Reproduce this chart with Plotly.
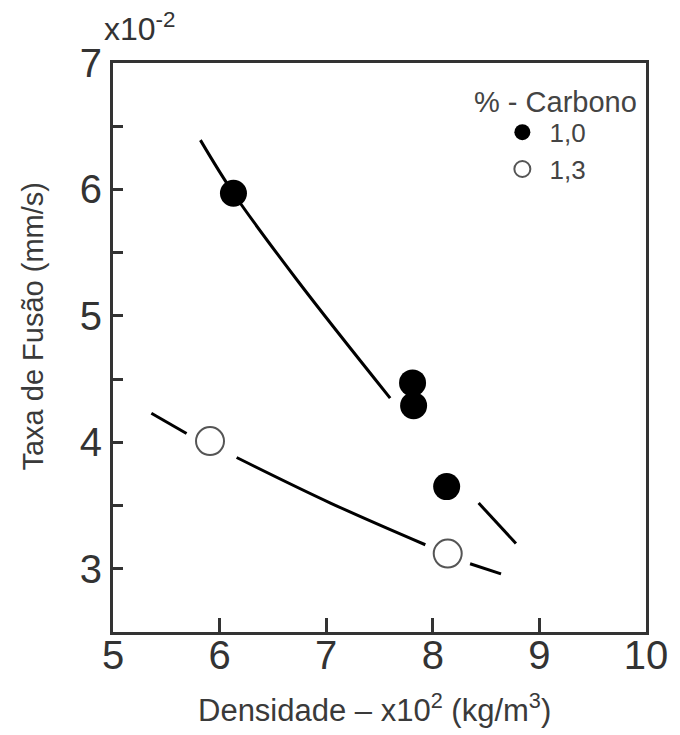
import plotly.graph_objects as go

# Measured points
dens_c10 = [6.13, 7.81, 7.82, 8.13]
taxa_c10 = [5.97, 4.47, 4.29, 3.65]
dens_c13 = [5.91, 8.14]
taxa_c13 = [4.01, 3.12]

# Fitted curves (gaps around the markers)
fit_c10_x = [5.82, 6.13, 6.73, 7.60, None, 8.43, 8.78]
fit_c10_y = [6.39, 5.97, 5.28, 4.35, None, 3.52, 3.20]
fit_c13_x = [5.36, 5.69, None, 6.16, 7.04, 7.93, None, 8.35, 8.64]
fit_c13_y = [4.23, 4.07, None, 3.88, 3.52, 3.19, None, 3.04, 2.96]

x_tickvals = [5, 6, 7, 8, 9, 10]
x_ticktext = ["5", "6", "7", "8", "9", "10"]
y_tickvals = [3, 3.5, 4, 4.5, 5, 5.5, 6, 6.5, 7]
y_ticktext = ["3", "", "4", "", "5", "", "6", "", "7"]

TITLEFONT = "Liberation Sans, Arial, sans-serif"
TICKFONT = dict(family=TITLEFONT, size=40, color="#333333")

fig = go.Figure()

fig.add_trace(go.Scatter(x=fit_c10_x, y=fit_c10_y, mode="lines", line=dict(color="black", width=3, shape="spline"),
                         showlegend=False, hoverinfo="skip", connectgaps=False))
fig.add_trace(go.Scatter(x=fit_c13_x, y=fit_c13_y, mode="lines", line=dict(color="black", width=3, shape="spline"),
                         showlegend=False, hoverinfo="skip", connectgaps=False))

fig.add_trace(go.Scatter(x=dens_c10, y=taxa_c10, mode="markers", name="\u00a01,0",
                         marker=dict(symbol="circle", size=27, color="black", line=dict(width=0))))
fig.add_trace(go.Scatter(x=dens_c13, y=taxa_c13, mode="markers", name="\u00a01,3",
                         marker=dict(symbol="circle", size=28, color="white", line=dict(width=2, color="#555555"))))

fig.update_layout(
    width=680, height=735,
    margin=dict(l=113, r=18, t=63, b=103),
    paper_bgcolor="white", plot_bgcolor="white",
    font=dict(family=TITLEFONT, color="#3a3a3a"),
    legend=dict(
        x=0.7305, y=0.9195, xanchor="left", yanchor="top",
        bgcolor="rgba(0,0,0,0)",
        font=dict(size=26, family=TITLEFONT, color="#444444"),
        itemsizing="trace", tracegroupgap=0,
    ),
    xaxis=dict(
        range=[5, 10], tickvals=x_tickvals, ticktext=x_ticktext,
        ticks="inside", ticklen=14, tickwidth=3, tickcolor="#333333",
        showline=True, linewidth=3, linecolor="#333333", mirror=True,
        showgrid=False, zeroline=False, tickfont=TICKFONT,
        ticklabeloverflow="allow", ticklabelstandoff=-14,
    ),
    yaxis=dict(
        range=[2.5, 7], tickvals=y_tickvals, ticktext=y_ticktext,
        ticks="inside", ticklen=10, tickwidth=3, tickcolor="#333333",
        showline=True, linewidth=3, linecolor="#333333", mirror=True,
        showgrid=False, zeroline=False, tickfont=TICKFONT,
        ticklabeloverflow="allow",
    ),
    annotations=[
        dict(text="x10<sup>-2</sup>", xref="paper", yref="paper", x=-0.02, y=1.0, xanchor="left", yanchor="bottom",
             yshift=14, showarrow=False, font=dict(size=32, family=TITLEFONT, color="#333333")),
        dict(text="% - Carbono", xref="paper", yref="paper", x=0.831, y=0.931, xanchor="center", yanchor="middle",
             showarrow=False, font=dict(size=29, family=TITLEFONT, color="#444444")),
        dict(text="Taxa de Fusão (mm/s)", xref="paper", yref="paper", x=-0.151, y=0.536, xanchor="center", yanchor="middle",
             textangle=-90, showarrow=False, font=dict(size=29, family=TITLEFONT, color="#3a3a3a")),
        dict(text="Densidade – x10<sup>2</sup> (kg/m<sup>3</sup>)", xref="paper", yref="paper", x=0.49, y=-0.1336,
             xanchor="center", yanchor="middle", showarrow=False, font=dict(size=31, family=TITLEFONT, color="#3a3a3a")),
    ],
)

fig.write_html("out.html", post_script="document.body.style.margin='0px';", config={"displayModeBar": False})
